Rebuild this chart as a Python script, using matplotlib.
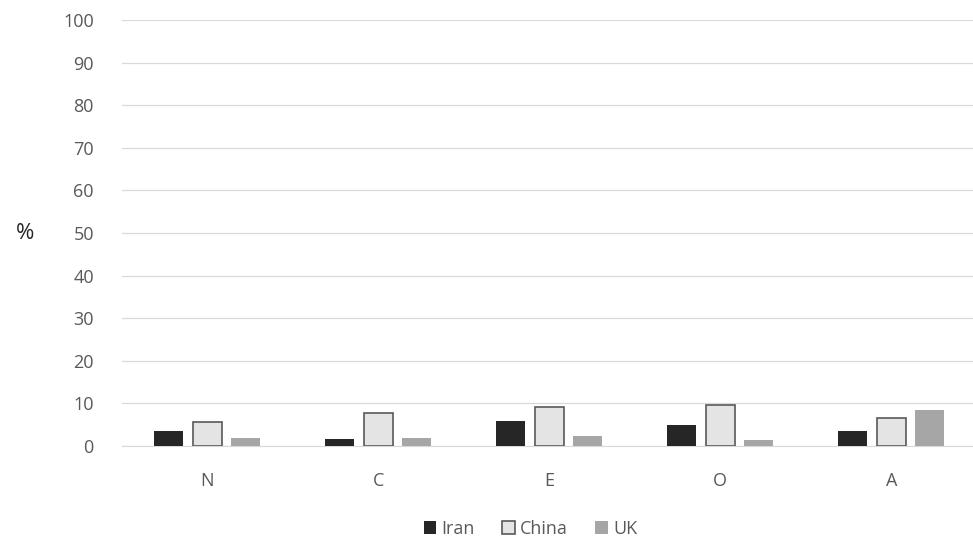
import matplotlib
matplotlib.use("Agg")
import matplotlib.pyplot as plt
import numpy as np

plt.rcParams['font.family'] = ['Open Sans', 'DejaVu Sans']

categories = ["N", "C", "E", "O", "A"]
iran = [3.4, 1.6, 5.8, 4.9, 3.4]
china = [5.7, 7.8, 9.0, 9.6, 6.6]
uk = [1.8, 1.8, 2.4, 1.3, 8.5]
yticks = list(range(0, 101, 10))

fig = plt.figure(figsize=(9.73, 5.43), dpi=100)
ax = fig.add_axes([0.125, 0.179, 0.879, 0.784])

x = np.arange(len(categories))
w = 0.17
off = 0.225
ax.bar(x - off, iran, w, color="#262626", label="Iran", zorder=3)
ax.bar(x, china, w, color="#e4e4e4", edgecolor="#595959", linewidth=1.2, label="China", zorder=3)
ax.bar(x + off, uk, w, color="#a6a6a6", label="UK", zorder=3)

ax.set_xlim(-0.5, len(categories) - 0.5)
ax.set_ylim(0, 100)
ax.set_yticks(yticks)
ax.set_xticks(x)
ax.set_xticklabels(categories)
ax.yaxis.grid(True, color="#d9d9d9", linewidth=0.9, zorder=0)
for s in ["top", "right", "left"]:
    ax.spines[s].set_visible(False)
ax.spines["bottom"].set_color("#d9d9d9")
ax.tick_params(axis="both", length=0, colors="#595959", labelsize=13)
ax.tick_params(axis="y", pad=20)
ax.tick_params(axis="x", pad=19)

fig.text(0.026, 0.57, "%", fontsize=16, color="#262626", va="center", ha="center")

ax.legend(loc="upper center", bbox_to_anchor=(0.478, -0.135), ncol=3, frameon=False,
          fontsize=13, labelcolor="#595959", handlelength=0.7, handleheight=0.7,
          handletextpad=0.3, columnspacing=1.5)

fig.savefig("out.png", dpi=100)
